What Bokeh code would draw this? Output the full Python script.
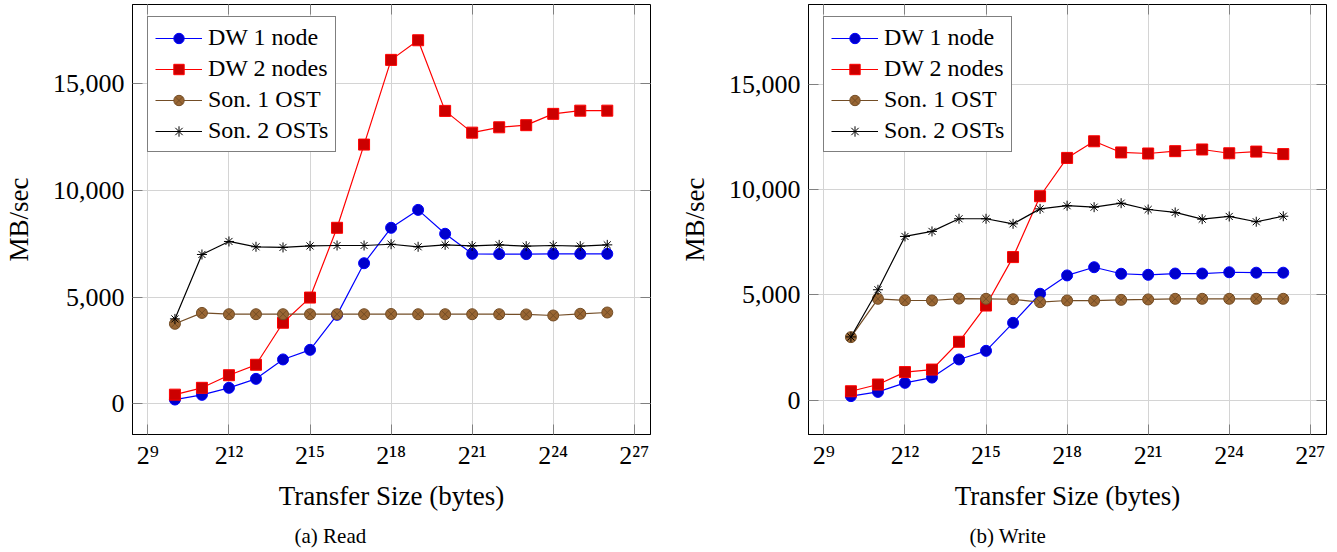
from bokeh.plotting import figure
from bokeh.models import Range1d, FixedTicker, NumeralTickFormatter, LinearAxis, LogAxis, Title
from bokeh.layouts import row
from bokeh.embed import file_html
from bokeh.resources import INLINE

# ---------------- data ----------------
exponents = list(range(10, 27))
transfer_size = [2 ** e for e in exponents]

read_dw1 = [200, 420, 750, 1170, 2080, 2530, 4170, 6590, 8250, 9090, 7970, 7030, 7020, 7020, 7030, 7030, 7030]
read_dw2 = [430, 750, 1340, 1830, 3800, 4980, 8250, 12150, 16120, 17040, 13730, 12710, 12960, 13060, 13590, 13740, 13740]
read_son1 = [3750, 4260, 4200, 4200, 4200, 4200, 4200, 4200, 4210, 4200, 4200, 4200, 4200, 4190, 4140, 4220, 4280]
read_son2 = [3980, 7000, 7610, 7360, 7330, 7400, 7420, 7420, 7480, 7360, 7450, 7400, 7450, 7390, 7420, 7390, 7450]

write_dw1 = [190, 390, 820, 1070, 1930, 2340, 3670, 5050, 5920, 6310, 6000, 5950, 6010, 6010, 6070, 6050, 6050]
write_dw2 = [420, 740, 1330, 1450, 2770, 4490, 6790, 9680, 11500, 12290, 11760, 11710, 11820, 11900, 11720, 11800, 11680]
write_son1 = [2990, 4810, 4740, 4730, 4820, 4810, 4790, 4650, 4730, 4720, 4760, 4780, 4810, 4810, 4810, 4810, 4810]
write_son2 = [3000, 5240, 7770, 8010, 8610, 8610, 8370, 9080, 9230, 9160, 9350, 9050, 8910, 8590, 8720, 8470, 8730]

series_labels = ["DW 1 node", "DW 2 nodes", "Son. 1 OST", "Son. 2 OSTs"]

x_tick_values = [2 ** 9, 2 ** 12, 2 ** 15, 2 ** 18, 2 ** 21, 2 ** 24, 2 ** 27]
x_tick_labels = ["2\u2079", "2\u00b9\u00b2", "2\u00b9\u2075", "2\u00b9\u2078", "2\u00b2\u00b9", "2\u00b2\u2074", "2\u00b2\u2077"]
y_tick_values = [0, 5000, 10000, 15000]

x_label = "Transfer Size (bytes)"
y_label = "MB/sec"
captions = ["(a) Read", "(b) Write"]

# ---------------- styles ----------------
SERIF = "Liberation Serif"
styles = [
    dict(line_color="#0000ff", marker="circle", fill_color="#0000cc", size=11),
    dict(line_color="#ff0000", marker="square", fill_color="#cc0000", size=11),
    dict(line_color="#734d26", marker="circle_x", fill_color="#996633", size=11),
    dict(line_color="#000000", marker="asterisk", fill_color="#000000", size=10),
]


def make_panel(caption, data, y_start, y_end, border_left, border_right, cap_offset):
    p = figure(frame_width=518, frame_height=430, x_axis_type="log",
               x_range=Range1d(2 ** 8.43, 2 ** 27.6), y_range=Range1d(y_start, y_end),
               output_backend="svg", toolbar_location=None,
               min_border_left=border_left, min_border_right=border_right,
               min_border_top=4, min_border_bottom=116)
    p.background_fill_color = "white"
    p.border_fill_color = "white"
    p.outline_line_color = "black"
    p.outline_line_width = 1

    xt = FixedTicker(ticks=x_tick_values)
    yt = FixedTicker(ticks=y_tick_values)
    overrides = {v: l for v, l in zip(x_tick_values, x_tick_labels)}

    p.xaxis.ticker = xt
    p.xaxis.major_label_overrides = overrides
    p.yaxis.ticker = yt
    p.yaxis.formatter = NumeralTickFormatter(format="0,0")
    p.xgrid.ticker = xt
    p.ygrid.ticker = yt
    for g in (p.xgrid, p.ygrid):
        g.grid_line_color = "#d4d4d4"
        g.grid_line_width = 1

    for ax in (p.xaxis, p.yaxis):
        ax.axis_line_color = "black"
        ax.axis_line_width = 1
        ax.major_tick_in = 10
        ax.major_tick_out = 0
        ax.major_tick_line_color = "#808080"
        ax.minor_tick_line_color = None
        ax.major_label_text_font = SERIF
        ax.major_label_text_font_size = "26px"
        ax.major_label_text_color = "black"
        ax.axis_label_text_font = SERIF
        ax.axis_label_text_font_size = "27px"
        ax.axis_label_text_font_style = "normal"
        ax.axis_label_text_color = "black"
    p.xaxis.axis_label = x_label
    p.yaxis.axis_label = y_label
    p.xaxis.major_label_standoff = 6
    p.xaxis.axis_label_standoff = 8
    p.yaxis.major_label_standoff = 8
    p.yaxis.axis_label_standoff = 16

    blank_y = {v: "" for v in y_tick_values}
    blank_x = {v: "" for v in x_tick_values}
    rax = LinearAxis(ticker=yt, major_label_overrides=blank_y, major_label_text_font_size="0px",
                     major_label_standoff=0, major_tick_in=10, major_tick_out=0,
                     major_tick_line_color="#808080", minor_tick_line_color=None,
                     axis_line_color=None)
    tax = LogAxis(ticker=xt, major_label_overrides=blank_x, major_label_text_font_size="0px",
                  major_label_standoff=0, major_tick_in=10, major_tick_out=0,
                  major_tick_line_color="#808080", minor_tick_line_color=None,
                  axis_line_color=None)
    p.add_layout(rax, "right")
    p.add_layout(tax, "above")

    for label, vals, st in zip(series_labels, data, styles):
        p.line(transfer_size, vals, line_color=st["line_color"], line_width=1.2, legend_label=label)
        p.scatter(transfer_size, vals, marker=st["marker"], size=st["size"],
                  fill_color=st["fill_color"], line_color=st["line_color"], line_width=1,
                  legend_label=label)

    lg = p.legend[0]
    lg.location = (15, 282)
    lg.margin = 0
    lg.padding = 7
    lg.spacing = 4
    lg.label_height = 26
    lg.glyph_height = 26
    lg.glyph_width = 47
    lg.label_standoff = 6
    lg.label_text_font = SERIF
    lg.label_text_font_size = "24px"
    lg.label_text_color = "black"
    lg.border_line_color = "black"
    lg.border_line_width = 1
    lg.background_fill_alpha = 1

    cap = Title(text=caption, align="left", offset=cap_offset, standoff=17, text_font=SERIF,
                text_font_size="21px", text_font_style="normal", text_color="black")
    p.add_layout(cap, "below")
    return p


p1 = make_panel(captions[0], [read_dw1, read_dw2, read_son1, read_son2],
                -1438, 18716, 130, 12, 162)
p2 = make_panel(captions[1], [write_dw1, write_dw2, write_son1, write_son2],
                -1633, 18784, 146, 5, 161)

layout = row(p1, p2)
open("out.html", "w").write(file_html(layout, INLINE))
